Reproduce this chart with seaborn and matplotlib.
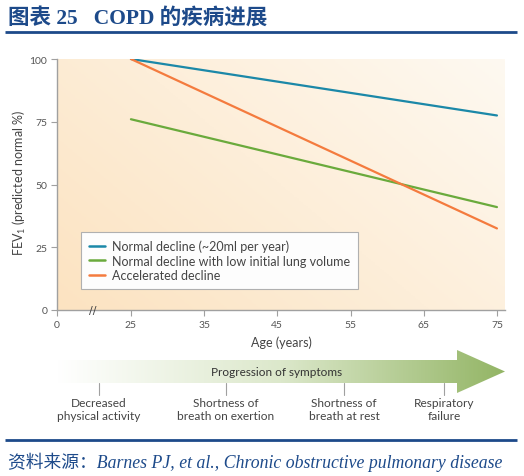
import numpy as np
import pandas as pd
import matplotlib
matplotlib.use("Agg")
import matplotlib.pyplot as plt
from matplotlib.patches import Polygon
from matplotlib.colors import LinearSegmentedColormap
import seaborn as sns

# data
ages = [25, 75]
normal_decline = [100, 77.5]
low_initial = [76, 41]
accelerated = [100, 32.5]
series_names = ["Normal decline (~20ml per year)",
                "Normal decline with low initial lung volume",
                "Accelerated decline"]
series_colors = ["#1b88a8", "#6aaa3c", "#f47b3e"]
x_ticks = [0, 25, 35, 45, 55, 65, 75]
y_ticks = [0, 25, 50, 75, 100]
symptoms = ["Decreased\nphysical activity", "Shortness of\nbreath on exertion",
            "Shortness of\nbreath at rest", "Respiratory\nfailure"]

title_text = "图表 25   COPD 的疾病进展"
source_text = "资料来源：Barnes PJ, et al., Chronic obstructive pulmonary disease"

sns.set_style("white")
plt.rcParams["font.family"] = ["Lato", "DejaVu Sans"]
plt.rcParams["mathtext.default"] = "regular"

navy = "#1d4a8a"
grey_txt = "#555555"
spine_c = "#a0a0a0"

df = pd.DataFrame({
    "age": ages * 3,
    "fev": normal_decline + low_initial + accelerated,
    "series": [series_names[0]] * 2 + [series_names[1]] * 2 + [series_names[2]] * 2,
})

W, H = 524, 477
fig = plt.figure(figsize=(W / 100, H / 100), dpi=100)

# axes box in pixels
left, right, top, bottom = 57, 505, 60, 311
pos = [left / W, 1 - bottom / H, (right - left) / W, (bottom - top) / H]

# gradient background
bg = fig.add_axes(pos, zorder=0)
u, v = np.meshgrid(np.linspace(0, 1, 200), np.linspace(0, 1, 200))
t = (u * 0.6 + v * 0.4)
peach = LinearSegmentedColormap.from_list("peach", ["#fce3c1", "#fef9f1"])
bg.imshow(t, cmap=peach, origin="lower", extent=[0, 1, 0, 1], aspect="auto")
bg.set_axis_off()

ax = fig.add_axes(pos, zorder=1)
ax.patch.set_alpha(0)

# broken x axis: 0-25 compressed
def fwd(x):
    x = np.asarray(x, dtype=float)
    return np.where(x < 25, x * 10.1 / 25, x - 14.9)

def inv(y):
    y = np.asarray(y, dtype=float)
    return np.where(y < 10.1, y * 25 / 10.1, y + 14.9)

ax.set_xscale("function", functions=(fwd, inv))

sns.lineplot(data=df, x="age", y="fev", hue="series", hue_order=series_names,
             palette=series_colors, linewidth=1.6, ax=ax)

ax.set_xlim(0, 76.1)
ax.set_ylim(0, 100)
ax.set_xticks(x_ticks)
ax.set_xticklabels([str(v) for v in x_ticks])
ax.set_yticks(y_ticks)
ax.tick_params(axis="both", direction="out", length=4, width=0.8, color=spine_c,
               labelsize=7.5, labelcolor=grey_txt, pad=3)
ax.tick_params(axis="x", bottom=True)
ax.tick_params(axis="y", left=True)
for s in ["top", "right"]:
    ax.spines[s].set_visible(False)
for s in ["left", "bottom"]:
    ax.spines[s].set_color(spine_c)
    ax.spines[s].set_linewidth(1.0)

ax.set_xlabel("Age (years)", fontsize=9, color="#444444", labelpad=5)
ax.set_ylabel("FEV$_1$ (predicted normal %)", fontsize=9, color="#444444")
ax.yaxis.set_label_coords(-0.064, 0.51)

# axis break mark
ax.text(12, 0, "//", ha="center", va="center", fontsize=8, color="#444444",
        family="DejaVu Sans")

leg = ax.legend(loc="lower left", bbox_to_anchor=(0.054, 0.084), borderaxespad=0,
                frameon=True, fancybox=False, framealpha=1, fontsize=9,
                handlelength=1.3, handletextpad=0.6, labelspacing=0.22,
                borderpad=0.6)
leg.get_frame().set_edgecolor("#b0b0b0")
leg.get_frame().set_facecolor("#fdfdfd")
leg.get_frame().set_linewidth(0.8)
for txt in leg.get_texts():
    txt.set_color("#444444")
for ln in leg.get_lines():
    ln.set_linewidth(1.8)

# overlay in pixel coordinates
ov = fig.add_axes([0, 0, 1, 1], zorder=2)
ov.set_xlim(0, W)
ov.set_ylim(H, 0)
ov.set_axis_off()
ov.patch.set_alpha(0)

ov.text(8, 18, title_text, ha="left", va="center", fontsize=15.5, fontweight="bold",
        color=navy, family=["Liberation Serif", "Noto Sans CJK SC"])
ov.plot([5, 517], [33, 33], color=navy, lw=2, solid_capstyle="butt")
ov.plot([5, 517], [441, 441], color=navy, lw=2, solid_capstyle="butt")
ov.text(8, 462, source_text, ha="left", va="center", fontsize=12.8, style="italic",
        color=navy, family=["Liberation Serif", "Noto Sans CJK SC"])

# progression arrow with gradient fill
arrow_pts = [(57, 361), (457, 361), (457, 351), (505, 372.5), (457, 394),
             (457, 384), (57, 384)]
arrow = Polygon(arrow_pts, closed=True, facecolor="none", edgecolor="none")
ov.add_patch(arrow)
green = LinearSegmentedColormap.from_list("grn", ["#ffffff", "#dce8cb", "#93b565"])
grad = np.linspace(0, 1, 256).reshape(1, -1)
im = ov.imshow(grad, cmap=green, extent=[57, 505, 394, 351], aspect="auto", zorder=1)
im.set_clip_path(arrow)
ov.set_xlim(0, W)
ov.set_ylim(H, 0)
ov.text(277, 373, "Progression of symptoms", ha="center", va="center", fontsize=8.5,
        color="#333333", zorder=3)

sym_x = [99, 226, 344, 444]
for x, lab in zip(sym_x, symptoms):
    ov.plot([x, x], [384, 396], color="#a0a0a0", lw=0.8)
    ov.text(x, 398, lab, ha="center", va="top", fontsize=8.6, color="#444444",
            linespacing=1.2)

fig.savefig("out.png", dpi=100)
